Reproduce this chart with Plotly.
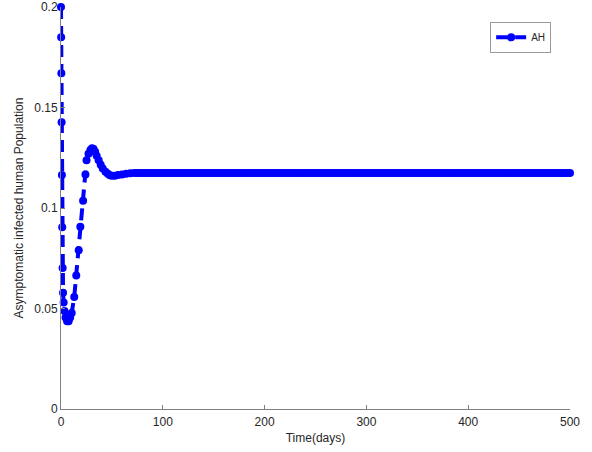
import plotly.graph_objects as go

# Time (days) and AH values
t_early = [0, 0.15, 0.35, 0.6, 0.9, 1.2, 1.6, 2.0, 2.6, 3.4, 4.5, 6.0, 7.5, 9.0, 10.5,
           13.0, 15.0, 17.4, 19.0, 21.7, 24.0, 25.1, 27.0, 28.9, 30.5, 32.0, 33.5, 35.0,
           37.0, 39.0, 41.0, 43.7, 46.0, 48.0, 50.0, 53.0, 56.0, 60.0, 64.0, 68.0, 72.0]
ah_early = [0.200, 0.185, 0.167, 0.1427, 0.1164, 0.0904, 0.0702, 0.0578, 0.0530, 0.0488,
            0.0455, 0.0437, 0.0437, 0.0455, 0.0478,
            0.0557, 0.0664, 0.0790, 0.0907, 0.1036, 0.1167, 0.1238, 0.1270, 0.1288, 0.1297,
            0.1293, 0.1280, 0.1260, 0.1238, 0.1215, 0.1197, 0.1180, 0.1170, 0.1163, 0.1160,
            0.1161, 0.1164, 0.1167, 0.1171, 0.1173, 0.1174]
# steady-state tail (flat at ~0.1174)
t_tail = [75 + 2.5 * i for i in range(171)]
ah_tail = [0.1174] * len(t_tail)

t = t_early + t_tail
ah = ah_early + ah_tail

x_ticks = [0, 100, 200, 300, 400, 500]
y_ticks = [0, 0.05, 0.1, 0.15, 0.2]
y_tick_labels = ["0", "0.05", "0.1", "0.15", "0.2"]

FONT = "Liberation Sans, Arial, Helvetica, sans-serif"
TXT = "#262626"
AX = "#7f7f7f"

fig = go.Figure()
fig.add_trace(go.Scatter(
    x=t, y=ah, name="AH", mode="lines+markers",
    line=dict(color="#0000ff", width=4, dash="12px,7px"),
    marker=dict(color="#0000ff", size=8, symbol="circle"),
    cliponaxis=False,
))

fig.update_layout(
    width=592, height=452,
    margin=dict(l=61, r=22, t=7, b=43),
    paper_bgcolor="white", plot_bgcolor="white",
    font=dict(family=FONT, size=12, color=TXT),
    showlegend=True,
    legend=dict(
        x=0.963, y=0.963, xanchor="right", yanchor="top",
        bordercolor="#9a9a9a", borderwidth=1, bgcolor="white",
        font=dict(family=FONT, size=10, color=TXT),
        itemwidth=30, tracegroupgap=0,
    ),
    xaxis=dict(
        range=[0, 500], tickvals=x_ticks, ticks="inside", ticklen=4,
        tickcolor=AX, showline=True, linecolor=AX, linewidth=1,
        showgrid=False, zeroline=False, mirror=False, automargin=False,
        ticklabelstandoff=2,
        tickfont=dict(family=FONT, size=12, color=TXT),
        title=dict(text="Time(days)", standoff=5,
                   font=dict(family=FONT, size=12, color=TXT)),
    ),
    yaxis=dict(
        range=[0, 0.2], tickvals=y_ticks, ticktext=y_tick_labels,
        ticks="inside", ticklen=4, tickcolor=AX,
        showline=True, linecolor=AX, linewidth=1,
        showgrid=False, zeroline=False, mirror=False, automargin=False,
        tickfont=dict(family=FONT, size=12, color=TXT),
        title=dict(text="Asymptomatic infected human Population", standoff=8,
                   font=dict(family=FONT, size=12, color=TXT)),
    ),
)

fig.write_html("out.html", config={"displayModeBar": False},
               post_script="document.body.style.margin='0';document.body.style.overflow='hidden';")
